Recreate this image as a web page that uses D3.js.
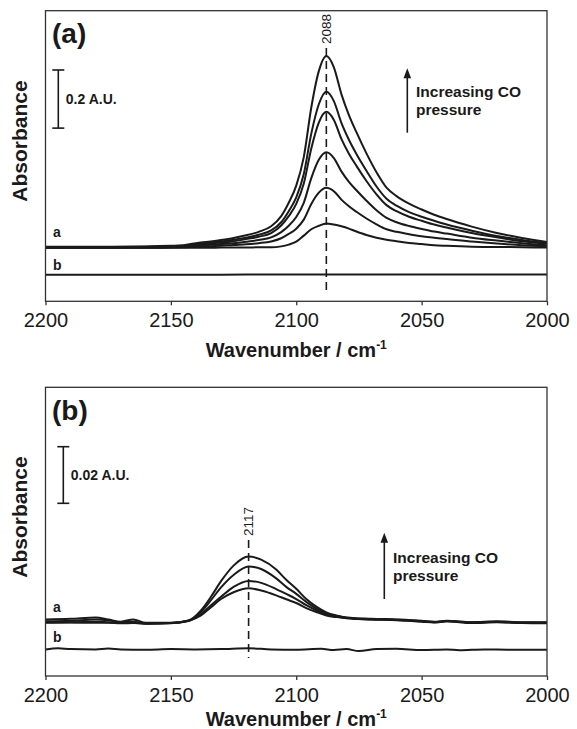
<!DOCTYPE html>
<html><head><meta charset="utf-8">
<script src="https://cdn.jsdelivr.net/npm/d3@7"></script>
<style>
body{margin:0;background:#fff}
svg{display:block}
text{font-family:"Liberation Sans",Arial,Helvetica,sans-serif;fill:#1a1a1a}
</style>
</head><body>
<svg id="chart" width="577" height="729"></svg>
<script>
// ---------------- DATA ----------------
const xTicks = [2200, 2150, 2100, 2050, 2000];

// Panel (a): wavenumbers (cm-1) and absorbance (A.U.) of the spectra at increasing CO pressure
const wnA = [2200,2180,2160,2150,2145,2140,2135,2130,2125,2120,2115,2110,2106,2103,2100,2097,2094,2091,2088,2085,2082,2079,2076,2072,2068,2064,2060,2055,2050,2045,2040,2030,2020,2010,2000];
const a1 = [0.188,0.188,0.189,0.191,0.193,0.200,0.205,0.211,0.218,0.227,0.239,0.258,0.293,0.339,0.398,0.496,0.667,0.792,0.844,0.805,0.713,0.641,0.582,0.509,0.444,0.391,0.362,0.336,0.316,0.298,0.283,0.257,0.235,0.218,0.204];
const a2 = [0.187,0.187,0.188,0.190,0.191,0.197,0.201,0.206,0.212,0.219,0.229,0.244,0.272,0.310,0.358,0.438,0.577,0.678,0.721,0.689,0.614,0.556,0.507,0.449,0.395,0.353,0.329,0.307,0.291,0.277,0.264,0.243,0.225,0.211,0.200];
const a3 = [0.186,0.186,0.187,0.188,0.190,0.194,0.198,0.202,0.207,0.214,0.222,0.235,0.261,0.293,0.335,0.405,0.526,0.615,0.652,0.624,0.559,0.508,0.466,0.414,0.368,0.331,0.310,0.291,0.277,0.264,0.254,0.235,0.220,0.207,0.198];
const a4 = [0.185,0.185,0.186,0.187,0.188,0.191,0.194,0.197,0.200,0.205,0.211,0.220,0.238,0.260,0.290,0.339,0.424,0.487,0.513,0.493,0.447,0.411,0.382,0.346,0.313,0.287,0.272,0.259,0.249,0.240,0.233,0.219,0.209,0.200,0.193];
const a5 = [0.184,0.184,0.184,0.185,0.186,0.188,0.189,0.191,0.194,0.196,0.200,0.206,0.217,0.232,0.250,0.281,0.335,0.374,0.391,0.379,0.350,0.327,0.308,0.285,0.265,0.248,0.239,0.231,0.224,0.219,0.214,0.206,0.199,0.193,0.189];
const a6 = [0.184,0.184,0.184,0.184,0.184,0.184,0.184,0.185,0.185,0.185,0.186,0.186,0.189,0.195,0.205,0.226,0.248,0.260,0.268,0.264,0.258,0.250,0.240,0.228,0.219,0.212,0.207,0.201,0.197,0.193,0.191,0.188,0.187,0.186,0.185];
// Panel (a) reference spectrum "b"
const wnA_b = [2200,2180,2160,2140,2120,2100,2088,2070,2050,2045,2030,2010,2000];
const a_b   = [0.0915,0.0917,0.0914,0.0916,0.0918,0.0921,0.0923,0.0919,0.0921,0.0925,0.0919,0.0921,0.0920];

// Panel (b)
const wnB = [2200,2190,2180,2175,2170,2165,2160,2150,2143,2138,2134,2130,2125,2119,2114,2108,2104,2100,2096,2092,2088,2084,2080,2070,2060,2050,2045,2040,2030,2020,2010,2000];
const b1 = [0.0200,0.0202,0.0207,0.0200,0.0192,0.0200,0.0188,0.0188,0.0196,0.0232,0.0280,0.0335,0.0390,0.0422,0.0411,0.0376,0.0340,0.0308,0.0272,0.0245,0.0225,0.0214,0.0207,0.0202,0.0200,0.0195,0.0190,0.0195,0.0190,0.0193,0.0190,0.0190];
const b2 = [0.0193,0.0195,0.0200,0.0197,0.0190,0.0192,0.0186,0.0187,0.0195,0.0226,0.0268,0.0313,0.0357,0.0387,0.0378,0.0345,0.0315,0.0290,0.0262,0.0238,0.0221,0.0212,0.0206,0.0201,0.0198,0.0193,0.0192,0.0194,0.0188,0.0192,0.0188,0.0188];
const b3 = [0.0190,0.0190,0.0192,0.0190,0.0188,0.0188,0.0185,0.0186,0.0194,0.0218,0.0250,0.0280,0.0315,0.0336,0.0329,0.0307,0.0290,0.0272,0.0250,0.0232,0.0218,0.0210,0.0205,0.0200,0.0197,0.0192,0.0189,0.0193,0.0187,0.0190,0.0187,0.0186];
const b4 = [0.0188,0.0189,0.0188,0.0188,0.0186,0.0187,0.0185,0.0187,0.0195,0.0214,0.0243,0.0272,0.0296,0.0310,0.0302,0.0285,0.0271,0.0258,0.0240,0.0226,0.0214,0.0208,0.0204,0.0200,0.0199,0.0194,0.0191,0.0193,0.0190,0.0191,0.0189,0.0188];
const wnB_b = [2200,2195,2190,2180,2175,2170,2160,2150,2140,2130,2119,2110,2100,2090,2085,2080,2075,2068,2060,2050,2040,2035,2025,2015,2000];
const b_b   = [0.0094,0.0098,0.0095,0.0094,0.0097,0.0094,0.0093,0.0095,0.0094,0.0095,0.0098,0.0094,0.0093,0.0096,0.0092,0.0095,0.0088,0.0095,0.0096,0.0092,0.0094,0.0091,0.0094,0.0093,0.0093];

// Peak markers and scale bars
const peakA = {pos: 2088, label: "2088"};
const peakB = {pos: 2119, label: "2117"};
const barA = 0.2, barB = 0.02;

// ---------------- DRAW ----------------
const svg = d3.select("#chart");
const X0 = 45.5, X1 = 547;
const INK = "#1a1a1a";

function panel(o){
  const g = svg.append("g");
  const x = d3.scaleLinear().domain([2200, 2000]).range([X0, X1]);
  const y = d3.scaleLinear().domain(o.yDomain).range([o.bottom, o.top]);
  const line = d3.line().x(d => x(d[0])).y(d => y(d[1])).curve(d3.curveMonotoneX);

  // reference spectrum b
  g.append("path").datum(d3.zip(o.wnRef, o.ref)).attr("d", line)
    .attr("fill","none").attr("stroke",INK).attr("stroke-width",2);
  // spectra a
  o.series.forEach(s => {
    g.append("path").datum(d3.zip(o.wn, s)).attr("d", line)
      .attr("fill","none").attr("stroke",INK).attr("stroke-width",2).attr("stroke-linejoin","round");
  });

  // dashed peak line
  g.append("line").attr("x1", x(o.peak.pos)).attr("x2", x(o.peak.pos))
    .attr("y1", o.dashTop).attr("y2", y(o.dashEnd))
    .attr("stroke",INK).attr("stroke-width",1.6).attr("stroke-dasharray","8,5");
  g.append("text").attr("transform", `translate(${x(o.peak.pos)+4.6},${o.dashTop-4}) rotate(-90)`)
    .attr("font-size",13.5).text(o.peak.label);

  // frame
  g.append("rect").attr("x",X0).attr("y",o.top).attr("width",X1-X0).attr("height",o.bottom-o.top)
    .attr("fill","none").attr("stroke","#333").attr("stroke-width",1.3);

  // x axis
  const ax = g.append("g").attr("transform",`translate(0,${o.bottom})`)
    .call(d3.axisBottom(x).tickValues(xTicks).tickSize(4).tickPadding(7.5).tickFormat(d3.format("d")));
  ax.select(".domain").remove();
  ax.selectAll(".tick line").attr("stroke","#333").attr("stroke-width",1.3);
  ax.selectAll(".tick text").attr("font-size",20).attr("fill","#222")
    .attr("font-family",'"Liberation Sans",Arial,sans-serif');

  // axis titles
  const t = g.append("text").attr("x",(X0+X1)/2).attr("y",o.titleY).attr("text-anchor","middle")
    .attr("font-size",20).attr("font-weight","bold");
  t.append("tspan").text("Wavenumber / cm");
  t.append("tspan").attr("dy",-8).attr("font-size",12).text("-1");

  g.append("text").attr("transform",`translate(27,${o.absY}) rotate(-90)`).attr("text-anchor","middle")
    .attr("font-size",21).attr("font-weight","bold").text("Absorbance");

  // panel letter
  g.append("text").attr("x",52).attr("y",o.letterY).attr("font-size",28).attr("font-weight","bold").text(o.letter);

  // scale bar
  const len = y(o.yDomain[0]) - y(o.yDomain[0] + o.bar);
  const bx = o.barX, by = o.barTop;
  g.append("line").attr("x1",bx).attr("x2",bx).attr("y1",by).attr("y2",by+len).attr("stroke",INK).attr("stroke-width",1.6);
  [by, by+len].forEach(yy => g.append("line").attr("x1",bx-6).attr("x2",bx+6).attr("y1",yy).attr("y2",yy)
    .attr("stroke",INK).attr("stroke-width",1.6));
  g.append("text").attr("x",bx+7.5).attr("y",by+len/2+5).attr("font-size",14).attr("font-weight","bold").text(o.barLabel);

  // arrow
  g.append("line").attr("x1",o.arrowX).attr("x2",o.arrowX).attr("y1",o.arrowBottom).attr("y2",o.arrowTop+8)
    .attr("stroke",INK).attr("stroke-width",1.6);
  g.append("path").attr("d",`M${o.arrowX},${o.arrowTop} L${o.arrowX-3.8},${o.arrowTop+10} L${o.arrowX+3.8},${o.arrowTop+10} Z`).attr("fill",INK);
  g.append("text").attr("x",o.arrowX+8.7).attr("y",o.arrowText1).attr("font-size",15.5).attr("font-weight","bold").text("Increasing CO");
  g.append("text").attr("x",o.arrowX+8.7).attr("y",o.arrowText2).attr("font-size",15.5).attr("font-weight","bold").text("pressure");

  // curve labels
  g.append("text").attr("x",53).attr("y",o.labA).attr("font-size",14).attr("font-weight","bold").text("a");
  g.append("text").attr("x",53).attr("y",o.labB).attr("font-size",14).attr("font-weight","bold").text("b");
}

panel({
  top:10.7, bottom:301.3, yDomain:[0,1.0],
  wn:wnA, series:[a6,a5,a4,a3,a2,a1], wnRef:wnA_b, ref:a_b,
  peak:peakA, dashTop:48, dashEnd:0.032,
  titleY:357, absY:141, letter:"(a)", letterY:43,
  bar:barA, barLabel:"0.2 A.U.", barX:58.3, barTop:70,
  arrowX:407.3, arrowTop:68.3, arrowBottom:132.7, arrowText1:96.7, arrowText2:114.5,
  labA:236.5, labB:270
});
panel({
  top:387.3, bottom:676, yDomain:[0,0.102],
  wn:wnB, series:[b4,b3,b2,b1], wnRef:wnB_b, ref:b_b,
  peak:peakB, dashTop:540, dashEnd:0.0064,
  titleY:726, absY:517, letter:"(b)", letterY:420,
  bar:barB, barLabel:"0.02 A.U.", barX:63.3, barTop:446.7,
  arrowX:384.3, arrowTop:532.7, arrowBottom:599, arrowText1:562.7, arrowText2:580.5,
  labA:612, labB:642
});
</script>
</body></html>
